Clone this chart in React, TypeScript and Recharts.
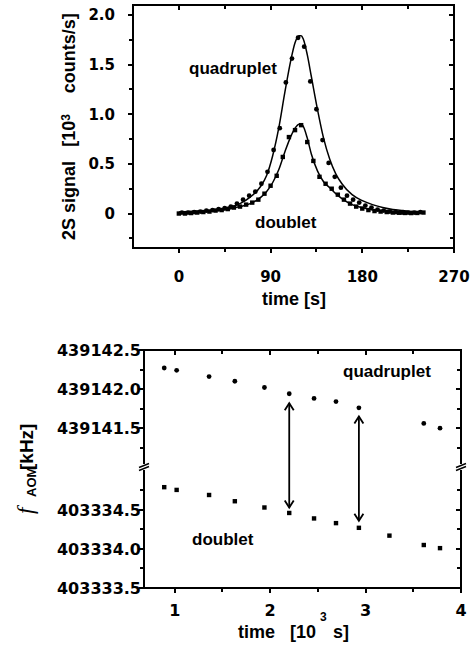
import { ComposedChart, Line, ReferenceLine, Scatter, XAxis, YAxis } from 'recharts';

// upper panel: 2S signal vs time
const quadTime = [3, 9, 15, 21, 27, 33, 39, 45, 51, 57, 63, 69, 75, 81, 87, 93, 99, 105, 111, 117, 123, 129, 135, 141, 147, 153, 159, 165, 171, 177, 183, 189, 195, 201, 207, 213, 219, 225, 231, 237];
const quadSignal = [0.01, 0.01, 0.015, 0.02, 0.03, 0.035, 0.045, 0.055, 0.07, 0.1, 0.14, 0.18, 0.22, 0.3, 0.42, 0.64, 0.86, 1.32, 1.56, 1.77, 1.68, 1.33, 1.05, 0.74, 0.51, 0.37, 0.26, 0.18, 0.14, 0.11, 0.08, 0.06, 0.04, 0.03, 0.02, 0.015, 0.01, 0.01, 0.01, 0.015];
const doubTime = [0, 6, 12, 18, 24, 30, 36, 42, 48, 54, 60, 66, 72, 78, 84, 90, 96, 102, 108, 114, 120, 126, 132, 138, 144, 150, 156, 162, 168, 174, 180, 186, 192, 198, 204, 210, 216, 222, 228, 234, 240];
const doubSignal = [0, 0, 0.005, 0.01, 0.015, 0.02, 0.03, 0.035, 0.045, 0.06, 0.07, 0.09, 0.11, 0.14, 0.2, 0.28, 0.38, 0.57, 0.77, 0.84, 0.89, 0.72, 0.53, 0.37, 0.3, 0.25, 0.19, 0.14, 0.1, 0.07, 0.05, 0.035, 0.025, 0.02, 0.015, 0.01, 0.008, 0.006, 0.005, 0.006, 0.01];
const fitTime = [0, 10, 20, 30, 40, 50, 60, 70, 80, 86, 92, 98, 104, 110, 114, 118, 120, 122, 126, 130, 136, 142, 148, 154, 160, 170, 180, 190, 200, 210, 220, 230, 240];
const quadFit = [0.015, 0.02, 0.025, 0.03, 0.045, 0.065, 0.1, 0.165, 0.27, 0.38, 0.58, 0.86, 1.22, 1.55, 1.72, 1.79, 1.79, 1.76, 1.6, 1.38, 1.05, 0.76, 0.55, 0.4, 0.3, 0.19, 0.13, 0.09, 0.06, 0.04, 0.03, 0.02, 0.015];
const doubFit = [0.005, 0.008, 0.012, 0.02, 0.03, 0.045, 0.07, 0.1, 0.16, 0.22, 0.31, 0.44, 0.62, 0.78, 0.86, 0.9, 0.9, 0.88, 0.76, 0.6, 0.43, 0.32, 0.26, 0.2, 0.15, 0.09, 0.06, 0.035, 0.025, 0.015, 0.01, 0.008, 0.006];
const signalTicks = [-0.25, 0, 0.25, 0.5, 0.75, 1, 1.25, 1.5, 1.75, 2];
const timeTicks = [0, 45, 90, 135, 180, 225, 270];
const signalDomain = [-0.347, 2.1];
const timeDomain = [-45, 270];

// lower panel: AOM frequency vs time (broken axis)
const quadRunTime = [0.89, 1.02, 1.36, 1.63, 1.94, 2.2, 2.46, 2.69, 2.93, 3.61, 3.78];
const quadFreq = [439142.27, 439142.24, 439142.16, 439142.1, 439142.02, 439141.94, 439141.88, 439141.84, 439141.76, 439141.56, 439141.5];
const doubRunTime = [0.89, 1.02, 1.36, 1.63, 1.94, 2.2, 2.46, 2.69, 2.93, 3.25, 3.61, 3.78];
const doubFreq = [403334.79, 403334.755, 403334.69, 403334.61, 403334.53, 403334.46, 403334.39, 403334.33, 403334.27, 403334.17, 403334.05, 403334.01];
const arrowTime = [2.2, 2.93];
const arrowTop = [439141.82, 439141.65];
const arrowBottom = [403334.53, 403334.36];
const upperFreqTicks = [439141.25, 439141.5, 439141.75, 439142, 439142.25, 439142.5];
const lowerFreqTicks = [403333.5, 403333.75, 403334, 403334.25, 403334.5, 403334.75];
const runTicks = [1, 1.5, 2, 2.5, 3, 3.5, 4];
const runDomain = [0.678, 4];
const freqDomain = [0, 3.045];

// map both frequency ranges onto one continuous axis
const UPPER_BASE = 439141.5;
const LOWER_BASE = 403333.5;
const UPPER_AT = 2.045;
const BREAK_AT = 1.554;
const toAxis = (v: number) => (v > 420000 ? v - UPPER_BASE + UPPER_AT : v - LOWER_BASE);
const fromAxis = (u: number) => (u > BREAK_AT ? u - UPPER_AT + UPPER_BASE : u + LOWER_BASE);

const pts = (xs: number[], ys: number[]) => xs.map((t, i) => ({ t, v: ys[i] }));
const quadPoints = pts(quadTime, quadSignal);
const doubPoints = pts(doubTime, doubSignal);
const quadFitLine = pts(fitTime, quadFit);
const doubFitLine = pts(fitTime, doubFit);
const quadRun = pts(quadRunTime, quadFreq.map(toAxis));
const doubRun = pts(doubRunTime, doubFreq.map(toAxis));
const freqTicks = [...lowerFreqTicks, ...upperFreqTicks].map(toAxis);

// plot boxes (page pixels), shared by the charts' margins and the frame overlay
const box1 = { left: 133, top: 5, right: 454, bottom: 248 };
const box2 = { left: 144, top: 350, right: 461, bottom: 588 };
const CHART2_TOP = 300;

const tickFont = { fontFamily: '"DejaVu Sans", sans-serif', fontWeight: 700 };
const textFont = { fontFamily: '"Liberation Sans", Arial, sans-serif', fontWeight: 700 };

const isHalf = (v: number) => Math.abs(v * 2 - Math.round(v * 2)) < 1e-6;
const isNinety = (v: number) => v % 90 === 0;
const isInt = (v: number) => Math.abs(v - Math.round(v)) < 1e-6;
const isFreqMajor = (u: number) => {
  const f = fromAxis(u);
  return Math.abs(f * 2 - Math.round(f * 2)) < 1e-4;
};

function makeLabel(side: 'bottom' | 'left', isMajor: (v: number) => boolean, label: (v: number) => string, size: number, gap: number) {
  return (p: any) => {
    const { x, y, payload } = p;
    const v = payload.value;
    if (!isMajor(v)) return <g />;
    if (side === 'bottom') {
      return <text x={x} y={y + gap} textAnchor="middle" fontSize={size} fill="#000" style={tickFont}>{label(v)}</text>;
    }
    return <text x={x - gap} y={y} dy="0.36em" textAnchor="end" fontSize={size} fill="#000" style={tickFont}>{label(v)}</text>;
  };
}

function ArrowShape(p: any) {
  const { x1, y1, x2, y2 } = p;
  const top = Math.min(y1, y2);
  const bot = Math.max(y1, y2);
  return (
    <g stroke="#000" strokeWidth={1.8} fill="none">
      <line x1={x1} x2={x2} y1={top} y2={bot} />
      <polyline points={`${x1 - 4.5},${top + 7} ${x1},${top} ${x1 + 4.5},${top + 7}`} />
      <polyline points={`${x1 - 4.5},${bot - 7} ${x1},${bot} ${x1 + 4.5},${bot - 7}`} />
    </g>
  );
}

const circle = (p: any) => <circle cx={p.cx} cy={p.cy} r={2.4} fill="#000" />;
const square = (p: any) => <rect x={p.cx - 2.2} y={p.cy - 2.2} width={4.4} height={4.4} fill="#000" />;

// box with ticks: outward on left/bottom, inward on top/right
function Frame({ box, xDomain, yDomain, xTicks, yTicks, xMajor, yMajor, breakAt }: any) {
  const sx = (v: number) => Math.round(box.left + ((v - xDomain[0]) / (xDomain[1] - xDomain[0])) * (box.right - box.left));
  const sy = (v: number) => Math.round(box.bottom - ((v - yDomain[0]) / (yDomain[1] - yDomain[0])) * (box.bottom - box.top));
  const marks: any[] = [];
  xTicks.forEach((v: number) => {
    const x = sx(v);
    const len = xMajor(v) ? 5 : 4;
    marks.push(<line key={`b${v}`} x1={x} x2={x} y1={box.bottom} y2={box.bottom + len} />);
    marks.push(<line key={`t${v}`} x1={x} x2={x} y1={box.top} y2={box.top + len} />);
  });
  yTicks.forEach((v: number) => {
    const y = sy(v);
    const len = yMajor(v) ? 5 : 4;
    marks.push(<line key={`l${v}`} x1={box.left - len} x2={box.left} y1={y} y2={y} />);
    marks.push(<line key={`r${v}`} x1={box.right - len} x2={box.right} y1={y} y2={y} />);
  });
  const breaks = breakAt == null ? [] : [box.left, box.right].map((x) => {
    const y = sy(breakAt);
    return (
      <g key={`br${x}`}>
        <rect x={x - 5} y={y - 3} width={10} height={6} fill="#fff" stroke="none" />
        <line x1={x - 5} y1={y + 0.5} x2={x + 5} y2={y - 3.5} strokeWidth={1.5} />
        <line x1={x - 5} y1={y + 3.5} x2={x + 5} y2={y - 0.5} strokeWidth={1.5} />
      </g>
    );
  });
  return (
    <g stroke="#000" fill="none">
      <rect x={box.left} y={box.top} width={box.right - box.left} height={box.bottom - box.top} strokeWidth={2} />
      <g strokeWidth={2}>{marks}</g>
      {breaks}
    </g>
  );
}

function SignalChart() {
  return (
    <ComposedChart width={473} height={300} margin={{ top: box1.top, right: 473 - box1.right, bottom: 0, left: 0 }}>
      <XAxis dataKey="t" type="number" domain={timeDomain} ticks={timeTicks} interval={0} allowDataOverflow
        height={300 - box1.bottom} axisLine={false} tickLine={false} tickSize={0} tickMargin={0}
        tick={makeLabel('bottom', isNinety, (v) => String(v), 15, 34)} />
      <YAxis type="number" domain={signalDomain} ticks={signalTicks} interval={0} allowDataOverflow
        width={box1.left} axisLine={false} tickLine={false} tickSize={0} tickMargin={0}
        tick={makeLabel('left', isHalf, (v) => (v === 0 ? '0' : v.toFixed(1)), 15, 18)} />
      <Line data={quadFitLine} dataKey="v" type="monotone" stroke="#000" strokeWidth={1.5} dot={false} isAnimationActive={false} />
      <Line data={doubFitLine} dataKey="v" type="monotone" stroke="#000" strokeWidth={1.5} dot={false} isAnimationActive={false} />
      <Scatter data={quadPoints} dataKey="v" shape={circle} isAnimationActive={false} />
      <Scatter data={doubPoints} dataKey="v" shape={square} isAnimationActive={false} />
    </ComposedChart>
  );
}

function FrequencyChart() {
  return (
    <ComposedChart width={473} height={347} margin={{ top: box2.top - CHART2_TOP, right: 473 - box2.right, bottom: 0, left: 0 }}>
      <XAxis dataKey="t" type="number" domain={runDomain} ticks={runTicks} interval={0} allowDataOverflow
        height={647 - box2.bottom} axisLine={false} tickLine={false} tickSize={0} tickMargin={0}
        tick={makeLabel('bottom', isInt, (v) => String(v), 16, 28)} />
      <YAxis type="number" domain={freqDomain} ticks={freqTicks} interval={0} allowDataOverflow
        width={box2.left} axisLine={false} tickLine={false} tickSize={0} tickMargin={0}
        tick={makeLabel('left', isFreqMajor, (u) => fromAxis(u).toFixed(1), 16, 3)} />
      <Scatter data={quadRun} dataKey="v" shape={circle} isAnimationActive={false} />
      <Scatter data={doubRun} dataKey="v" shape={square} isAnimationActive={false} />
      {arrowTime.map((t, i) => (
        <ReferenceLine key={t} segment={[{ x: t, y: toAxis(arrowTop[i]) }, { x: t, y: toAxis(arrowBottom[i]) }]} shape={ArrowShape} />
      ))}
    </ComposedChart>
  );
}

export default function App() {
  return (
    <div style={{ position: 'absolute', left: 0, top: 0, width: 473, height: 647, background: '#fff' }}>
      <div style={{ position: 'absolute', left: 0, top: 0 }}>
        <SignalChart />
      </div>
      <div style={{ position: 'absolute', left: 0, top: CHART2_TOP }}>
        <FrequencyChart />
      </div>
      <svg width={473} height={647} style={{ position: 'absolute', left: 0, top: 0, pointerEvents: 'none' }}>
        <Frame box={box1} xDomain={timeDomain} yDomain={signalDomain} xTicks={timeTicks} yTicks={signalTicks} xMajor={isNinety} yMajor={isHalf} />
        <Frame box={box2} xDomain={runDomain} yDomain={freqDomain} xTicks={runTicks} yTicks={freqTicks} xMajor={isInt} yMajor={isFreqMajor} breakAt={BREAK_AT} />
        <g style={textFont} fill="#000">
          <text x={189} y={74} fontSize={17}>quadruplet</text>
          <text x={255} y={228} fontSize={17}>doublet</text>
          <text x={294} y={305} fontSize={18} textAnchor="middle">time [s]</text>
          <g transform="translate(74.5,0) rotate(-90)">
            <text x={-240} y={0} fontSize={18}>2S signal</text>
            <text x={-146.7} y={0} fontSize={18}>[10</text>
            <text x={-120.7} y={-5} fontSize={12}>3</text>
            <text x={-93.3} y={0} fontSize={18}>counts/s]</text>
          </g>
          <text x={343} y={377} fontSize={17}>quadruplet</text>
          <text x={192} y={545} fontSize={17}>doublet</text>
          <text x={238} y={638} fontSize={18}>time</text>
          <text x={290} y={638} fontSize={18}>[10</text>
          <text x={320} y={621} fontSize={12}>3</text>
          <text x={333} y={638} fontSize={18}>s]</text>
          <g transform="translate(33,0) rotate(-90)">
            <text x={-514} y={0} fontSize={23} style={{ fontFamily: '"Liberation Serif", serif', fontStyle: 'italic', fontWeight: 400 }}>f</text>
            <text x={-497} y={3} fontSize={13}>AOM</text>
            <text x={-470} y={0} fontSize={19}>[kHz]</text>
          </g>
        </g>
      </svg>
    </div>
  );
}
